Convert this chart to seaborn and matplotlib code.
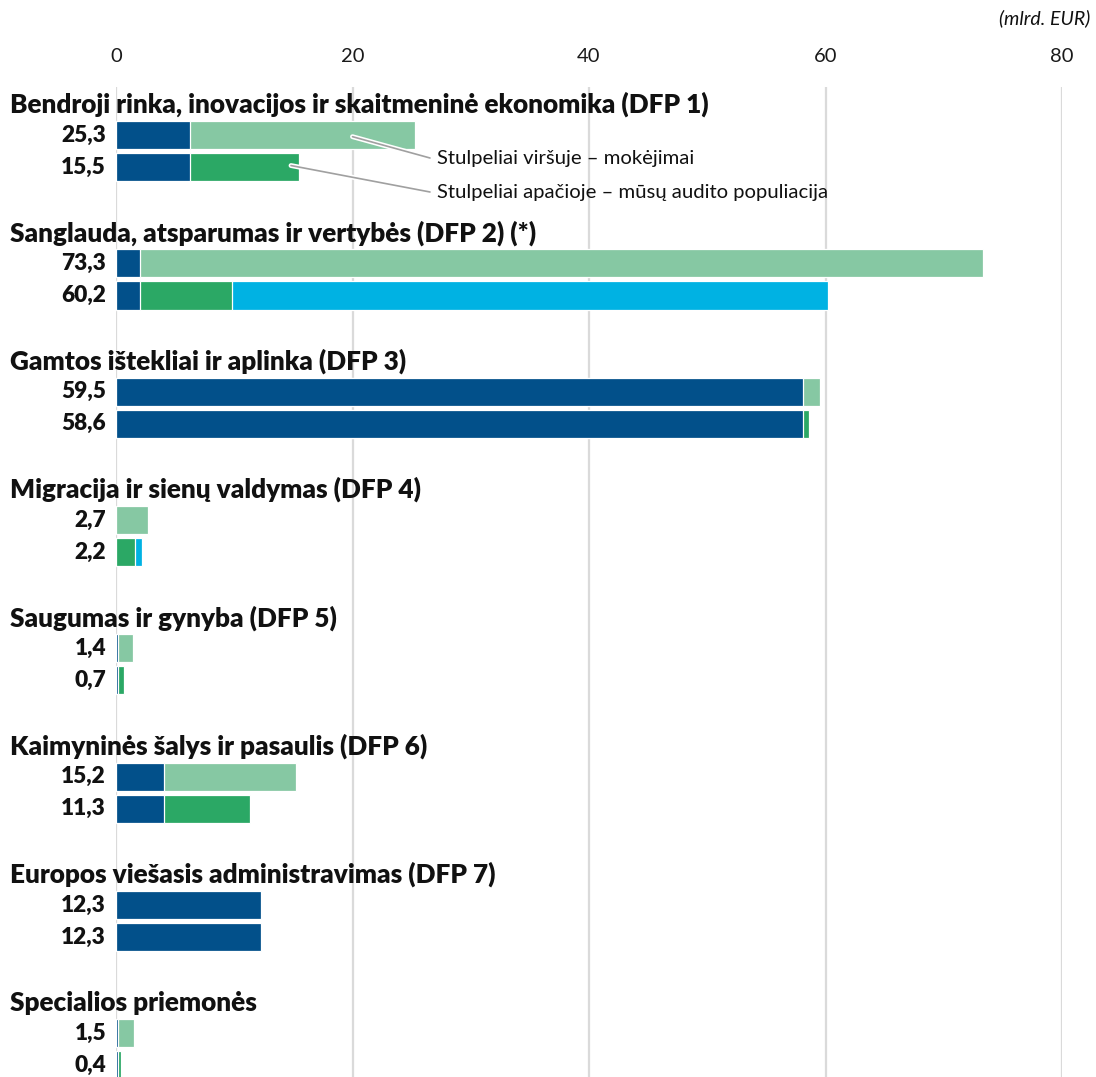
import matplotlib
matplotlib.use("Agg")
import matplotlib.pyplot as plt
import matplotlib.patheffects as pe
import seaborn as sns
import pandas as pd

# ---- data (mlrd. EUR) ----
titles = [
    "Bendroji rinka, inovacijos ir skaitmeninė ekonomika (DFP 1)",
    "Sanglauda, atsparumas ir vertybės (DFP 2) (*)",
    "Gamtos ištekliai ir aplinka (DFP 3)",
    "Migracija ir sienų valdymas (DFP 4)",
    "Saugumas ir gynyba (DFP 5)",
    "Kaimyninės šalys ir pasaulis (DFP 6)",
    "Europos viešasis administravimas (DFP 7)",
    "Specialios priemonės",
]
payments_total = [25.3, 73.3, 59.5, 2.7, 1.4, 15.2, 12.3, 1.5]
audit_total = [15.5, 60.2, 58.6, 2.2, 0.7, 11.3, 12.3, 0.4]
dark_part = [6.3, 2.0, 58.1, 0.0, 0.15, 4.1, 12.3, 0.15]
payments_green = [19.0, 71.3, 1.4, 2.7, 1.25, 11.1, 0.0, 1.35]
audit_green = [9.2, 7.8, 0.5, 1.6, 0.55, 7.2, 0.0, 0.25]
audit_cyan = [0.0, 50.4, 0.0, 0.6, 0.0, 0.0, 0.0, 0.0]
payments_labels = ["25,3", "73,3", "59,5", "2,7", "1,4", "15,2", "12,3", "1,5"]
audit_labels = ["15,5", "60,2", "58,6", "2,2", "0,7", "11,3", "12,3", "0,4"]
x_ticks = [0, 20, 40, 60, 80]
unit_label = "(mlrd. EUR)"
legend_upper = "Stulpeliai viršuje – mokėjimai"
legend_lower = "Stulpeliai apačioje – mūsų audito populiacija"

colors = {
    "dark": "#02508a",
    "pay": "#86c8a3",
    "audit": "#2ba865",
    "cyan": "#00b2e3",
}

sns.set_theme(style="white")
plt.rcParams["font.family"] = ["Lato", "DejaVu Sans"]

# ---- build rows (4 slots per group: title, upper, lower, gap) ----
order = []
for i in range(len(titles)):
    order += [f"t{i}", f"u{i}", f"l{i}", f"g{i}"]

rows = []
for i in range(len(titles)):
    d = dark_part[i]
    if d > 0:
        rows.append((f"u{i}", "dark", d))
        rows.append((f"l{i}", "dark", d))
    if payments_green[i] > 0:
        rows.append((f"u{i}", "pay", d + payments_green[i]))
    if audit_green[i] > 0:
        rows.append((f"l{i}", "audit", d + audit_green[i]))
    if audit_cyan[i] > 0:
        rows.append((f"l{i}", "cyan", d + audit_green[i] + audit_cyan[i]))
df = pd.DataFrame(rows, columns=["row", "segment", "end"])

W, H = 1096, 1077
fig = plt.figure(figsize=(W / 100, H / 100), dpi=100)
x0_px, x80_px = 116, 1062
top_px, bot_px = 87, 1077
ax = fig.add_axes([x0_px / W, 1 - bot_px / H, (x80_px - x0_px) / W, (bot_px - top_px) / H])

for seg in ["cyan", "audit", "pay", "dark"]:
    sub = df[df.segment == seg]
    if len(sub) == 0:
        continue
    sns.barplot(data=sub, x="end", y="row", order=order, orient="h",
                color=colors[seg], saturation=1, width=0.875,
                edgecolor="white", linewidth=0.9, errorbar=None, ax=ax, zorder=3)

slot0_px = 103.0
pitch = 32.08
ax.set_xlim(0, 80)
ax.set_ylim((bot_px - slot0_px) / pitch, (top_px - slot0_px) / pitch)
ax.set_yticks([])
ax.set_ylabel("")
ax.set_xlabel("")
for s in ax.spines.values():
    s.set_visible(False)

ax.set_xticks(x_ticks)
ax.set_xticklabels([str(t) for t in x_ticks])
ax.xaxis.tick_top()
ax.tick_params(axis="x", length=0, pad=16, labelsize=14.5, colors="#1a1a1a")
ax.grid(axis="x", color="#dadada", linewidth=1.6, zorder=0)
ax.set_axisbelow(True)

pxu = (x80_px - x0_px) / 80.0
title_x = (10 - x0_px) / pxu
val_x = (106 - x0_px) / pxu
for i, t in enumerate(titles):
    ax.text(title_x, 4 * i + 0.05, t, ha="left", va="center", fontsize=18.8,
            fontweight="heavy", color="#111111", clip_on=False, zorder=5)
    ax.text(val_x, 4 * i + 1, payments_labels[i], ha="right", va="center",
            fontsize=16.3, fontweight="heavy", color="#111111", clip_on=False)
    ax.text(val_x, 4 * i + 2, audit_labels[i], ha="right", va="center",
            fontsize=16.3, fontweight="heavy", color="#111111", clip_on=False)

# legend annotations
line_pe = [pe.Stroke(linewidth=3.5, foreground="white"), pe.Normal()]
xl = (430 - x0_px) / pxu
xt = (437 - x0_px) / pxu
for label, start, yend in [(legend_upper, (20.0, 1.05), 158),
                           (legend_lower, (14.8, 1.95), 192)]:
    ye = (yend - slot0_px) / pitch
    ax.annotate("", xy=start, xytext=(xl, ye),
                arrowprops=dict(arrowstyle="-", color="#a0a0a0", lw=1.2,
                                shrinkA=0, shrinkB=0, path_effects=line_pe),
                zorder=6)
    ax.text(xt, ye, label, ha="left", va="center", fontsize=14.6,
            color="#111111", zorder=6)

fig.text(1090 / W, 1 - 18 / H, unit_label, ha="right", va="center",
         fontsize=14, style="italic", color="#111111")

fig.savefig("out.png", dpi=100)
